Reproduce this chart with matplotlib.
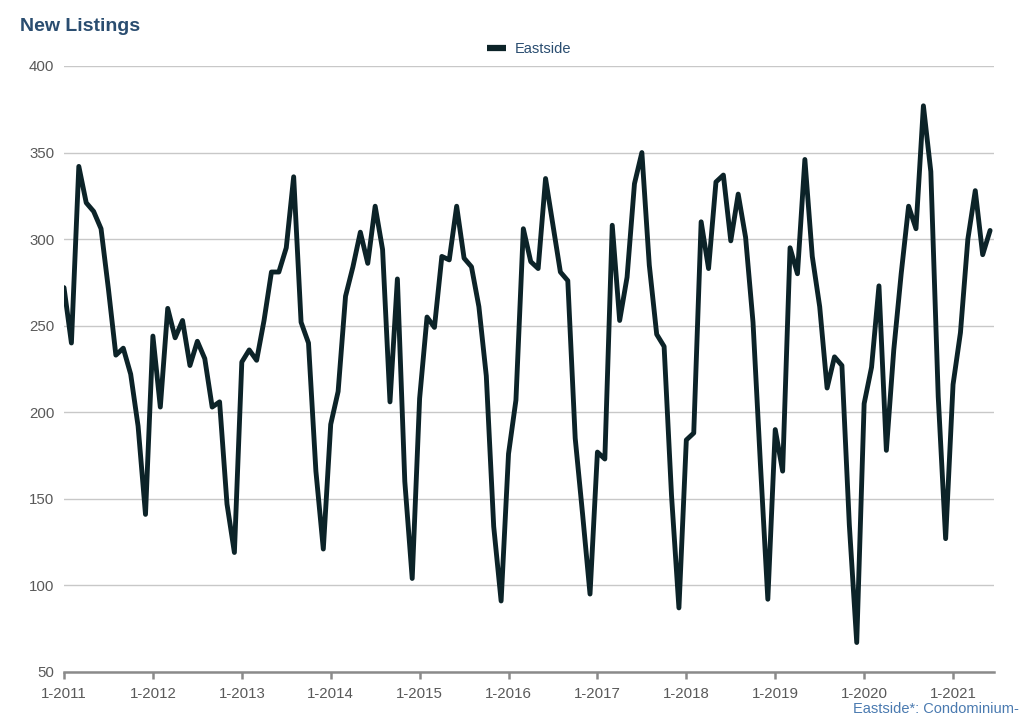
import numpy as np
import matplotlib.pyplot as plt

plt.rcParams['font.family'] = ['Liberation Sans', 'DejaVu Sans']

# monthly new listings, Jan 2011 .. Jun 2021
y2011 = [272, 240, 342, 321, 316, 306, 271, 233, 237, 222, 192, 141]
y2012 = [244, 203, 260, 243, 253, 227, 241, 231, 203, 206, 147, 119]
y2013 = [229, 236, 230, 253, 281, 281, 295, 336, 252, 240, 166, 121]
y2014 = [193, 212, 267, 284, 304, 286, 319, 294, 206, 277, 160, 104]
y2015 = [208, 255, 249, 290, 288, 319, 289, 284, 261, 221, 134, 91]
y2016 = [176, 207, 306, 287, 283, 335, 308, 281, 276, 185, 141, 95]
y2017 = [177, 173, 308, 253, 278, 332, 350, 285, 245, 238, 152, 87]
y2018 = [184, 188, 310, 283, 333, 337, 299, 326, 301, 252, 170, 92]
y2019 = [190, 166, 295, 280, 346, 290, 261, 214, 232, 227, 135, 67]
y2020 = [205, 226, 273, 178, 236, 280, 319, 306, 377, 339, 209, 127]
y2021 = [216, 246, 300, 328, 291, 305]

listings = y2011 + y2012 + y2013 + y2014 + y2015 + y2016 + y2017 + y2018 + y2019 + y2020 + y2021
years = list(range(2011, 2022))
tick_labels = ['1-%d' % y for y in years]

months = np.arange(len(listings))

fig = plt.figure(figsize=(10.24, 7.21), dpi=100)
ax = fig.add_axes([0.0625, 0.068, 0.908, 0.8405])

ax.plot(months, listings, color='#0c2328', lw=3.5, solid_joinstyle='round',
        solid_capstyle='round', label='Eastside', zorder=3)

ax.set_xlim(0, len(listings) - 0.5)
ax.set_ylim(50, 400)
ax.set_yticks(range(50, 401, 50))
ax.set_xticks([12 * i for i in range(len(years))])
ax.set_xticklabels(tick_labels)

ax.grid(axis='y', color='#c8c8c8', lw=1)
ax.set_axisbelow(True)
for s in ['top', 'right', 'left']:
    ax.spines[s].set_visible(False)
ax.spines['bottom'].set_color('#8a8a8a')
ax.spines['bottom'].set_linewidth(1.8)
ax.tick_params(axis='x', colors='#8a8a8a', length=5, width=1.8, labelcolor='#595959',
               labelsize=10.8, pad=6)
ax.tick_params(axis='y', length=0, labelcolor='#595959', labelsize=10.8, pad=7)

fig.text(0.02, 0.963, 'New Listings', fontsize=14, fontweight='bold', color='#2a4d70',
         va='center', ha='left')

leg = ax.legend(loc='lower center', bbox_to_anchor=(0.5, 1.0), frameon=False,
                fontsize=10.5, handlelength=1.3, handletextpad=0.6, borderaxespad=0.3)
for t in leg.get_texts():
    t.set_color('#2a4d70')
for h in leg.get_lines():
    h.set_linewidth(4.5)
    h.set_solid_capstyle('butt')

fig.text(0.995, 0.016, 'Eastside*: Condominium-', fontsize=10.5, color='#4a7ab0',
         ha='right', va='center')

fig.savefig('out.png', dpi=100)
